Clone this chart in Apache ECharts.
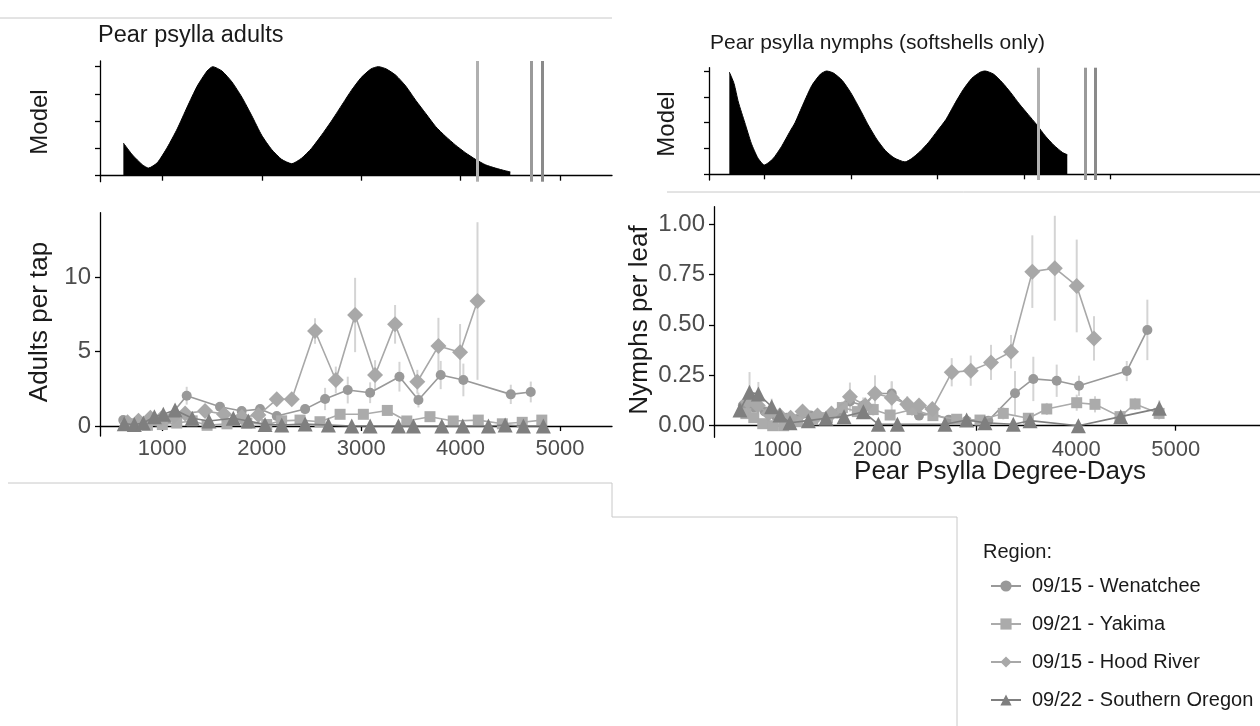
<!DOCTYPE html>
<html>
<head>
<meta charset="utf-8">
<script src="https://cdn.jsdelivr.net/npm/echarts@6.0.0/dist/echarts.min.js"></script>
<style>
  html, body { margin: 0; padding: 0; background: #fff; }
  #chart { width: 1260px; height: 726px; }
</style>
</head>
<body>
<div id="chart"></div>
<script>
// tick labels
const xTicks = [1000, 2000, 3000, 4000, 5000];
const adultTicks = [0, 5, 10];
const nymphTicks = [0, 0.25, 0.5, 0.75, 1];
const modelTicks = [0, 0.25, 0.5, 0.75, 1];

// model curves (degree-days, relative activity)
const adultModelX = [608, 700, 800, 860, 950, 1050, 1150, 1250, 1350, 1450, 1507, 1600, 1700, 1800, 1900, 2000, 2100, 2200, 2302, 2400, 2500, 2600, 2700, 2800, 2900, 3000, 3100, 3173, 3250, 3350, 3450, 3550, 3650, 3750, 3850, 3950, 4050, 4150, 4250, 4350, 4450, 4500];
const adultModelY = [0.30, 0.19, 0.10, 0.07, 0.12, 0.26, 0.43, 0.63, 0.82, 0.96, 1.00, 0.96, 0.86, 0.72, 0.55, 0.37, 0.24, 0.15, 0.11, 0.16, 0.25, 0.37, 0.50, 0.64, 0.78, 0.90, 0.98, 1.00, 0.98, 0.92, 0.82, 0.69, 0.57, 0.45, 0.36, 0.28, 0.21, 0.15, 0.10, 0.07, 0.045, 0.035];
const nymphModelX = [596, 650, 700, 775, 850, 925, 1000, 1100, 1200, 1300, 1356, 1450, 1550, 1650, 1721, 1800, 1900, 2000, 2100, 2200, 2300, 2400, 2500, 2627, 2700, 2800, 2900, 3000, 3100, 3200, 3300, 3400, 3500, 3552, 3650, 3750, 3850, 3950, 4050, 4150, 4250, 4350, 4450, 4503];
const nymphModelY = [0.99, 0.88, 0.70, 0.50, 0.30, 0.16, 0.09, 0.15, 0.27, 0.42, 0.50, 0.68, 0.86, 0.97, 1.00, 0.98, 0.91, 0.79, 0.64, 0.48, 0.34, 0.23, 0.16, 0.12, 0.15, 0.22, 0.31, 0.42, 0.53, 0.68, 0.82, 0.93, 0.99, 1.00, 0.97, 0.89, 0.79, 0.68, 0.58, 0.48, 0.37, 0.28, 0.21, 0.19];
const adultDates = [4170, 4706, 4817];
const nymphDates = [4168, 4707, 4823];
const dateColors = ['#b0b0b0', '#9a9a9a', '#8a8a8a'];

// adults per tap
const wenAdX = [607, 720, 830, 940, 1050, 1245, 1580, 1798, 1983, 2151, 2436, 2637, 2865, 3090, 3385, 3576, 3800, 4028, 4505, 4706];
const wenAdY = [0.40, 0.15, 0.10, 0.30, 0.45, 2.04, 1.30, 1.01, 1.14, 0.67, 1.14, 1.82, 2.42, 2.24, 3.32, 1.75, 3.43, 3.10, 2.13, 2.29];
const wenAdErr = [0.2, 0.1, 0.1, 0.2, 0.2, 0.6, 0.3, 0.3, 0.3, 0.3, 0.3, 0.75, 0.9, 0.7, 1.0, 0.5, 0.95, 1.1, 0.65, 0.7];
const yakAdX = [700, 850, 1000, 1145, 1300, 1450, 1650, 1850, 2050, 2200, 2385, 2586, 2788, 3022, 3263, 3459, 3692, 3926, 4178, 4420, 4620, 4817];
const yakAdY = [0.15, 0.05, 0.10, 0.20, 0.35, 0.05, 0.15, 0.20, 0.10, 0.35, 0.40, 0.29, 0.79, 0.79, 1.05, 0.34, 0.63, 0.34, 0.40, 0.15, 0.25, 0.40];
const yakAdErr = [0.1, 0.1, 0.1, 0.15, 0.15, 0.1, 0.15, 0.15, 0.1, 0.15, 0.2, 0.15, 0.3, 0.3, 0.3, 0.15, 0.25, 0.15, 0.2, 0.1, 0.15, 0.2];
const hoodAdX = [650, 760, 880, 990, 1120, 1229, 1430, 1620, 1800, 1966, 2151, 2302, 2536, 2745, 2939, 3140, 3341, 3565, 3777, 3995, 4170];
const hoodAdY = [0.25, 0.35, 0.55, 0.50, 0.70, 0.85, 1.01, 0.80, 0.60, 0.74, 1.80, 1.80, 6.39, 3.10, 7.47, 3.43, 6.84, 2.98, 5.38, 4.96, 8.41];
const hoodAdErr = [0.1, 0.1, 0.2, 0.2, 0.2, 0.3, 0.3, 0.3, 0.3, 0.3, 0.4, 0.4, 0.86, 0.9, 2.5, 1.0, 1.3, 0.8, 1.9, 1.9, 5.3];
const soAdX = [617, 718, 809, 920, 1010, 1128, 1301, 1469, 1714, 1865, 2033, 2201, 2436, 2670, 2905, 3090, 3375, 3526, 3811, 4022, 4280, 4448, 4632, 4833];
const soAdY = [0.15, 0.10, 0.20, 0.63, 0.79, 1.08, 0.52, 0.34, 0.52, 0.34, 0.11, 0.07, 0.13, 0.07, 0, 0, 0, 0, 0, 0, 0, 0.07, 0, 0];
const soAdErr = [0.1, 0.1, 0.1, 0.2, 0.2, 0.3, 0.2, 0.1, 0.2, 0.1, 0.1, 0.05, 0.1, 0.05, 0, 0, 0, 0, 0, 0, 0, 0.05, 0, 0];

// nymphs per leaf
const wenNyX = [650, 760, 870, 980, 1090, 1200, 1330, 1480, 1600, 1726, 1860, 1978, 2146, 2302, 2420, 2560, 2720, 2900, 3117, 3385, 3569, 3804, 4028, 4508, 4715];
const wenNyY = [0.10, 0.09, 0.07, 0.05, 0.04, 0.03, 0.05, 0.04, 0.06, 0.12, 0.10, 0.16, 0.16, 0.10, 0.05, 0.06, 0.03, 0.025, 0.025, 0.161, 0.232, 0.223, 0.198, 0.271, 0.475];
const wenNyErr = [0.02, 0.02, 0.02, 0.02, 0.02, 0.02, 0.02, 0.02, 0.02, 0.05, 0.04, 0.06, 0.06, 0.03, 0.02, 0.02, 0.02, 0.02, 0.02, 0.11, 0.11, 0.08, 0.05, 0.05, 0.15];
const yakNyX = [680, 760, 850, 950, 1060, 1200, 1350, 1500, 1650, 1800, 1960, 2130, 2350, 2560, 2799, 3033, 3267, 3519, 3704, 4005, 4189, 4440, 4592, 4833];
const yakNyY = [0.06, 0.04, 0.01, 0.00, 0.00, 0.02, 0.03, 0.04, 0.09, 0.07, 0.08, 0.053, 0.08, 0.05, 0.032, 0.028, 0.061, 0.037, 0.083, 0.114, 0.106, 0.045, 0.108, 0.061];
const yakNyErr = [0.02, 0.02, 0.01, 0.01, 0.01, 0.02, 0.02, 0.02, 0.03, 0.02, 0.03, 0.02, 0.03, 0.02, 0.02, 0.02, 0.03, 0.02, 0.03, 0.04, 0.04, 0.02, 0.03, 0.03];
const hoodNyX = [700, 800, 910, 1020, 1130, 1250, 1400, 1540, 1726, 1880, 1978, 2146, 2302, 2420, 2554, 2749, 2940, 3144, 3345, 3559, 3785, 4005, 4179];
const hoodNyY = [0.12, 0.10, 0.06, 0.05, 0.04, 0.07, 0.05, 0.06, 0.144, 0.10, 0.16, 0.139, 0.106, 0.10, 0.083, 0.265, 0.273, 0.314, 0.367, 0.764, 0.781, 0.693, 0.433];
const hoodNyErr = [0.03, 0.03, 0.02, 0.02, 0.02, 0.02, 0.02, 0.02, 0.07, 0.04, 0.09, 0.08, 0.04, 0.03, 0.02, 0.07, 0.075, 0.087, 0.083, 0.18, 0.26, 0.23, 0.11];
const soNyX = [621, 717, 806, 940, 1023, 1124, 1308, 1485, 1667, 1861, 2012, 2203, 2681, 2899, 3083, 3368, 3536, 4022, 4447, 4835];
const soNyY = [0.078, 0.166, 0.157, 0.094, 0.053, 0.015, 0.025, 0.037, 0.045, 0.069, 0.007, 0.007, 0.007, 0.028, 0.015, 0.007, 0.025, 0.0, 0.045, 0.086];
const soNyErr = [0.03, 0.1, 0.06, 0.04, 0.02, 0.01, 0.01, 0.01, 0.02, 0.03, 0.01, 0.01, 0.01, 0.01, 0.01, 0.01, 0.01, 0.0, 0.02, 0.04];

const regions = ['09/15 - Wenatchee', '09/21 - Yakima', '09/15 - Hood River', '09/22 - Southern Oregon'];
const regionColors = ['#999999', '#ababab', '#a8a8a8', '#7f7f7f'];
const regionSymbols = ['circle', 'rect', 'diamond', 'triangle'];
const regionSizes = [10, 11, 16, 15];

const FONT = 'Liberation Sans';
const zip = (xs, ys) => xs.map((x, i) => [x, ys[i]]);

function xAxis(gi, min, max, labels) {
  return {
    type: 'value', gridIndex: gi, min: min, max: max,
    splitLine: { show: false },
    axisLine: { lineStyle: { color: '#000', width: 1.3 } },
    axisTick: { length: 5, lineStyle: { color: '#000', width: 1.3 }, customValues: xTicks },
    axisLabel: { show: labels, customValues: xTicks, color: '#4d4d4d', fontSize: 22, fontFamily: FONT, margin: 2,
                 formatter: v => String(v) }
  };
}

function yAxis(gi, min, max, ticks, labels, fmt) {
  return {
    type: 'value', gridIndex: gi, min: min, max: max,
    splitLine: { show: false },
    axisLine: { show: true, lineStyle: { color: '#000', width: 1.3 } },
    axisTick: { show: true, length: 5, lineStyle: { color: '#000', width: 1.3 }, customValues: ticks },
    axisLabel: { show: labels, customValues: ticks, color: '#4d4d4d', fontSize: 24, fontFamily: FONT, margin: 9,
                 formatter: fmt || (v => String(v)) }
  };
}

function modelSeries(gi, xs, ys, dates) {
  return {
    type: 'line', xAxisIndex: gi, yAxisIndex: gi,
    data: zip(xs, ys), symbol: 'none', smooth: 0.2,
    lineStyle: { color: '#000', width: 1 },
    areaStyle: { color: '#000', opacity: 1 },
    markLine: {
      symbol: 'none', silent: true, label: { show: false },
      data: dates.map((d, i) => ({ xAxis: d, lineStyle: { color: dateColors[i], width: 3, type: 'solid' } }))
    }
  };
}

function errSeries(gi, xs, ys, es, width) {
  return {
    type: 'custom', xAxisIndex: gi, yAxisIndex: gi, silent: true, z: 1,
    data: xs.map((x, i) => [x, ys[i] - es[i], ys[i] + es[i]]),
    renderItem: (params, api) => {
      const lo = api.coord([api.value(0), api.value(1)]);
      const hi = api.coord([api.value(0), api.value(2)]);
      return { type: 'line', shape: { x1: lo[0], y1: lo[1], x2: hi[0], y2: hi[1] },
               style: { stroke: '#d4d4d4', lineWidth: width } };
    }
  };
}

function regionSeries(gi, k, xs, ys) {
  return {
    name: regions[k], type: 'line', xAxisIndex: gi, yAxisIndex: gi, z: 2 + k,
    data: zip(xs, ys), symbol: regionSymbols[k], symbolSize: regionSizes[k],
    itemStyle: { color: regionColors[k] },
    lineStyle: { color: regionColors[k], width: 1.6 }
  };
}

function label(text, x, y, size, align) {
  return {
    type: 'text', x: x, y: y,
    style: { text: text, fill: '#1a1a1a', font: size + 'px "' + FONT + '"', align: align || 'left', verticalAlign: 'middle' }
  };
}

function vlabel(text, x, y, size) {
  return {
    type: 'text', x: x, y: y, rotation: Math.PI / 2,
    style: { text: text, fill: '#1a1a1a', font: size + 'px "' + FONT + '"', align: 'center', verticalAlign: 'middle' }
  };
}

function rule(x1, y1, x2, y2) {
  return { type: 'line', shape: { x1: x1, y1: y1, x2: x2, y2: y2 }, style: { stroke: '#c8c8c8', lineWidth: 1 } };
}

const chart = echarts.init(document.getElementById('chart'), null, { renderer: 'canvas' });

const option = {
  animation: false,
  backgroundColor: '#fff',
  grid: [
    { left: 100, top: 61, width: 512, height: 120.7, outerBoundsMode: 'none' },
    { left: 100, top: 212.7, width: 512, height: 223.3, outerBoundsMode: 'none' },
    { left: 709, top: 67.7, width: 551, height: 112.3, outerBoundsMode: 'none' },
    { left: 714, top: 206.7, width: 546, height: 230.6, outerBoundsMode: 'none' }
  ],
  xAxis: [
    xAxis(0, 373, 5523, false),
    xAxis(1, 373, 5523, true),
    xAxis(2, 361, 6731, false),
    xAxis(3, 360, 5847, true)
  ],
  yAxis: [
    yAxis(0, -0.055, 1.052, modelTicks, false),
    yAxis(1, -0.67, 14.35, adultTicks, true),
    yAxis(2, -0.055, 1.032, modelTicks, false),
    yAxis(3, -0.0575, 1.086, nymphTicks, true, v => v.toFixed(2))
  ],
  legend: {
    data: regions, orient: 'vertical', left: 985, top: 571,
    itemWidth: 30, itemHeight: 14, itemGap: 18, selectedMode: false,
    textStyle: { color: '#1a1a1a', fontSize: 20, fontFamily: FONT, padding: [0, 0, 0, 6] }
  },
  graphic: [
    rule(0, 18, 612, 18),
    rule(667, 192, 1260, 192),
    rule(8, 483, 612, 483),
    rule(612, 483, 612, 517),
    rule(612, 517, 957, 517),
    rule(957, 517, 957, 726),
    label('Pear psylla adults', 98, 36, 23.5),
    label('Pear psylla nymphs (softshells only)', 710, 43, 21),
    vlabel('Model', 40, 122, 24),
    vlabel('Model', 667, 124, 24),
    vlabel('Adults per tap', 40, 322, 26),
    vlabel('Nymphs per leaf', 640, 320, 26),
    label('Pear Psylla Degree-Days', 1000, 472, 26, 'center'),
    label('Region:', 983, 552, 20)
  ],
  series: [
    modelSeries(0, adultModelX, adultModelY, adultDates),
    modelSeries(2, nymphModelX, nymphModelY, nymphDates),
    errSeries(1, wenAdX, wenAdY, wenAdErr, 2),
    errSeries(1, yakAdX, yakAdY, yakAdErr, 2),
    errSeries(1, hoodAdX, hoodAdY, hoodAdErr, 2),
    errSeries(1, soAdX, soAdY, soAdErr, 2),
    errSeries(3, wenNyX, wenNyY, wenNyErr, 2),
    errSeries(3, yakNyX, yakNyY, yakNyErr, 2),
    errSeries(3, hoodNyX, hoodNyY, hoodNyErr, 2),
    errSeries(3, soNyX, soNyY, soNyErr, 2),
    regionSeries(1, 0, wenAdX, wenAdY),
    regionSeries(1, 1, yakAdX, yakAdY),
    regionSeries(1, 2, hoodAdX, hoodAdY),
    regionSeries(1, 3, soAdX, soAdY),
    regionSeries(3, 0, wenNyX, wenNyY),
    regionSeries(3, 1, yakNyX, yakNyY),
    regionSeries(3, 2, hoodNyX, hoodNyY),
    regionSeries(3, 3, soNyX, soNyY)
  ]
};
chart.setOption(option);
</script>
</body>
</html>
